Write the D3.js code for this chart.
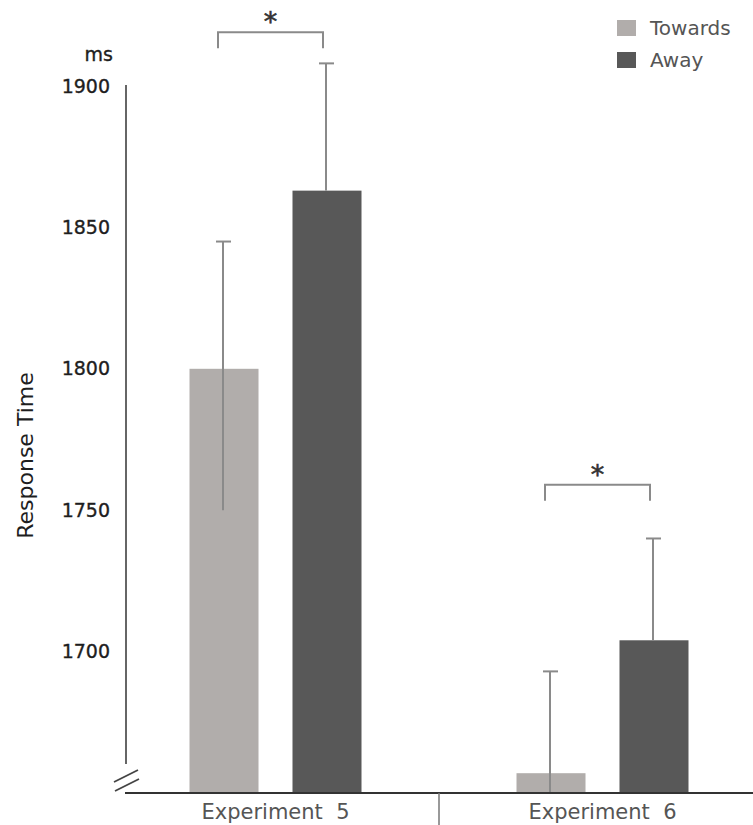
<!DOCTYPE html>
<html>
<head>
<meta charset="utf-8">
<script src="https://cdn.jsdelivr.net/npm/d3@7"></script>
<style>
  html, body { margin: 0; padding: 0; background: #fff; }
  svg { display: block; }
</style>
</head>
<body>
<svg id="chart" width="753" height="825"></svg>
<script>
// Mean response times (ms) per experiment and movement direction
const experiments = ["Experiment 5", "Experiment 6"];
const series = ["Towards", "Away"];
const towards = [1800, 1657];
const away = [1863, 1704];
// Upper error whiskers (ms above the mean)
const towardsErr = [45, 36];
const awayErr = [45, 36];
// Lower end of the Towards whiskers (ms)
const towardsLow = [1750, 1621];
const yTicks = [1700, 1750, 1800, 1850, 1900];
// Significant comparisons (one per experiment) and the level of each bracket (ms)
const sigLabels = ["*", "*"];
const sigLevel = [1919, 1759];

const colors = { Towards: "#b1adab", Away: "#585858" };
const svg = d3.select("#chart");

const y = d3.scaleLinear().domain([1650, 1900]).range([793, 86]);
const x0 = d3.scaleBand().domain(experiments).range([112, 766]);
const x1 = d3.scaleBand().domain(series).range([77.5, 249.5]).paddingInner(0.33);

const rows = experiments.map((e, i) => ({
  exp: e,
  vals: [
    { s: "Towards", v: towards[i], hi: towards[i] + towardsErr[i], lo: towardsLow[i] },
    { s: "Away", v: away[i], hi: away[i] + awayErr[i], lo: null }
  ]
}));

// Bars
const groups = svg.selectAll("g.grp").data(rows).join("g")
  .attr("class", "grp")
  .attr("transform", d => `translate(${x0(d.exp)},0)`);

groups.selectAll("rect").data(d => d.vals).join("rect")
  .attr("x", d => x1(d.s))
  .attr("width", x1.bandwidth())
  .attr("y", d => y(d.v))
  .attr("height", d => y(1650) - y(d.v))
  .attr("fill", d => colors[d.s]);

// Error whiskers
const errColor = "#8a8a8a";
groups.selectAll("line.err").data(d => d.vals).join("line")
  .attr("class", "err")
  .attr("x1", d => x1(d.s) + x1.bandwidth() / 2 - 1)
  .attr("x2", d => x1(d.s) + x1.bandwidth() / 2 - 1)
  .attr("y1", d => y(d.hi))
  .attr("y2", d => d.lo == null ? y(d.v) : Math.min(y(d.lo), y(1650)))
  .attr("stroke", errColor).attr("stroke-width", 2);

groups.selectAll("line.cap").data(d => d.vals).join("line")
  .attr("class", "cap")
  .attr("x1", d => x1(d.s) + x1.bandwidth() / 2 - 8)
  .attr("x2", d => x1(d.s) + x1.bandwidth() / 2 + 7)
  .attr("y1", d => y(d.hi))
  .attr("y2", d => y(d.hi))
  .attr("stroke", errColor).attr("stroke-width", 2);

// Significance brackets above each pair
groups.each(function(d, i) {
  const g = d3.select(this);
  const top = y(sigLevel[i]);
  const xa = x1("Towards") + x1.bandwidth() / 2 - 6;
  const xb = x1("Away") + x1.bandwidth() / 2 - 4;
  g.append("path")
    .attr("d", `M${xa},${top + 16}V${top}H${xb}V${top + 16}`)
    .attr("fill", "none").attr("stroke", "#8a8a8a").attr("stroke-width", 2);
  g.append("text")
    .attr("x", (xa + xb) / 2).attr("y", top - 1)
    .attr("text-anchor", "middle")
    .attr("font-family", "DejaVu Sans, sans-serif")
    .attr("font-size", 27).attr("fill", "#333")
    .attr("stroke", "#333").attr("stroke-width", 0.6)
    .text(sigLabels[i]);
});

// Y axis (labels only) with a broken baseline
const yAxis = d3.axisLeft(y).tickValues(yTicks).tickSize(0).tickPadding(0).tickFormat(d3.format("d"));
const ya = svg.append("g").attr("transform", "translate(110,0)").call(yAxis);
ya.select(".domain").remove();
ya.selectAll("text")
  .attr("font-family", "DejaVu Sans, sans-serif")
  .attr("font-size", 19).attr("fill", "#1e1e1e")
  .attr("stroke", "#1e1e1e").attr("stroke-width", 0.35);

svg.append("line")
  .attr("x1", 126).attr("x2", 126)
  .attr("y1", y(1900) - 1).attr("y2", 764)
  .attr("stroke", "#666").attr("stroke-width", 2);

svg.append("path")
  .attr("d", "M114,782L138,770M115,791L139,779")
  .attr("stroke", "#444").attr("stroke-width", 1.8).attr("fill", "none");

svg.append("text")
  .attr("x", 113).attr("y", 61)
  .attr("text-anchor", "end")
  .attr("font-family", "DejaVu Sans, sans-serif")
  .attr("font-size", 19).attr("fill", "#1e1e1e")
  .attr("stroke", "#1e1e1e").attr("stroke-width", 0.35)
  .text("ms");

svg.append("text")
  .attr("transform", `translate(33,${(y(1900) + 793) / 2 + 16}) rotate(-90)`)
  .attr("text-anchor", "middle")
  .attr("font-family", "DejaVu Sans, sans-serif")
  .attr("font-size", 22).attr("fill", "#1e1e1e")
  .text("Response Time");

// X axis baseline, group divider and labels
svg.append("line")
  .attr("x1", 125).attr("x2", 753)
  .attr("y1", y(1650)).attr("y2", y(1650))
  .attr("stroke", "#333").attr("stroke-width", 2);

svg.append("line")
  .attr("x1", x0(experiments[1])).attr("x2", x0(experiments[1]))
  .attr("y1", y(1650)).attr("y2", 825)
  .attr("stroke", "#777").attr("stroke-width", 1.5);

svg.selectAll("text.xl").data(experiments).join("text")
  .attr("class", "xl")
  .attr("x", d => x0(d) + x0.bandwidth() / 2)
  .attr("y", 819)
  .attr("text-anchor", "middle")
  .attr("font-family", "DejaVu Sans, sans-serif")
  .attr("font-size", 21).attr("fill", "#555")
  .style("white-space", "pre")
  .text(d => d.replace(" ", "  "));

// Legend
const leg = svg.selectAll("g.leg").data(series).join("g")
  .attr("class", "leg")
  .attr("transform", (d, i) => `translate(617,${20 + i * 32})`);
leg.append("rect").attr("width", 19).attr("height", 16).attr("fill", d => colors[d]);
leg.append("text")
  .attr("x", 33).attr("y", 15)
  .attr("font-family", "DejaVu Sans, sans-serif")
  .attr("font-size", 20).attr("fill", "#555")
  .text(d => d);
</script>
</body>
</html>
